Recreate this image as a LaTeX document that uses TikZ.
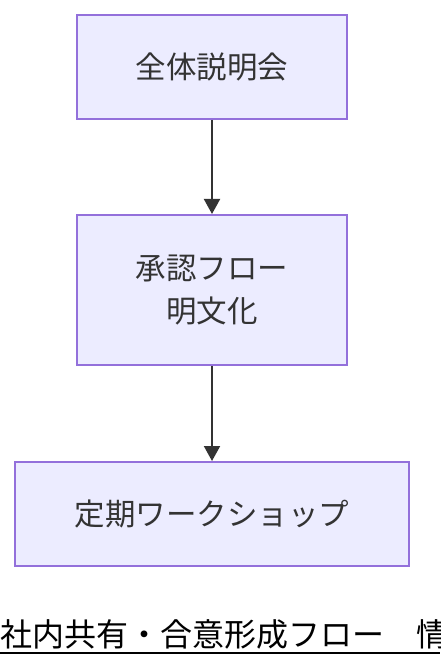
\documentclass[tikz,border=0pt]{standalone}
\usepackage{fontspec}
\setmainfont{Noto Sans CJK JP}
\usetikzlibrary{arrows.meta,positioning}
\definecolor{boxfill}{HTML}{ECECFF}
\definecolor{boxline}{HTML}{9370DB}
\definecolor{ink}{HTML}{333333}
\tikzset{
  stepbox/.style={draw=boxline, fill=boxfill, line width=2pt, text=ink,
    font=\fontsize{30.5}{43}\selectfont, align=center, inner sep=0pt},
  flow/.style={->, draw=ink, line width=2pt}
}
\begin{document}
\begin{tikzpicture}[x=1pt, y=-1pt, >={Triangle[length=15pt,width=16pt]}]
\useasboundingbox (0,0) rectangle (440,668);
\clip (0,0) rectangle (440,668);
\node[stepbox, minimum width=270pt, minimum height=104pt] (setsumei) at (212,67) {全体説明会};
\node[stepbox, minimum width=270pt, minimum height=150pt] (shonin) at (212,290) {承認フロー\\明文化};
\node[stepbox, minimum width=394pt, minimum height=104pt] (workshop) at (212,514) {定期ワークショップ};
\draw[flow] (setsumei) -- (shonin);
\draw[flow] (shonin) -- (workshop);
% caption, cut off at the right edge
\node[anchor=base west, inner sep=0pt, font=\fontsize{32}{32}\selectfont] (caption) at (0,646) {社内共有・合意形成フロー　情};
\draw[line width=2pt] (0,653) -- (440,653);
\end{tikzpicture}
\end{document}
